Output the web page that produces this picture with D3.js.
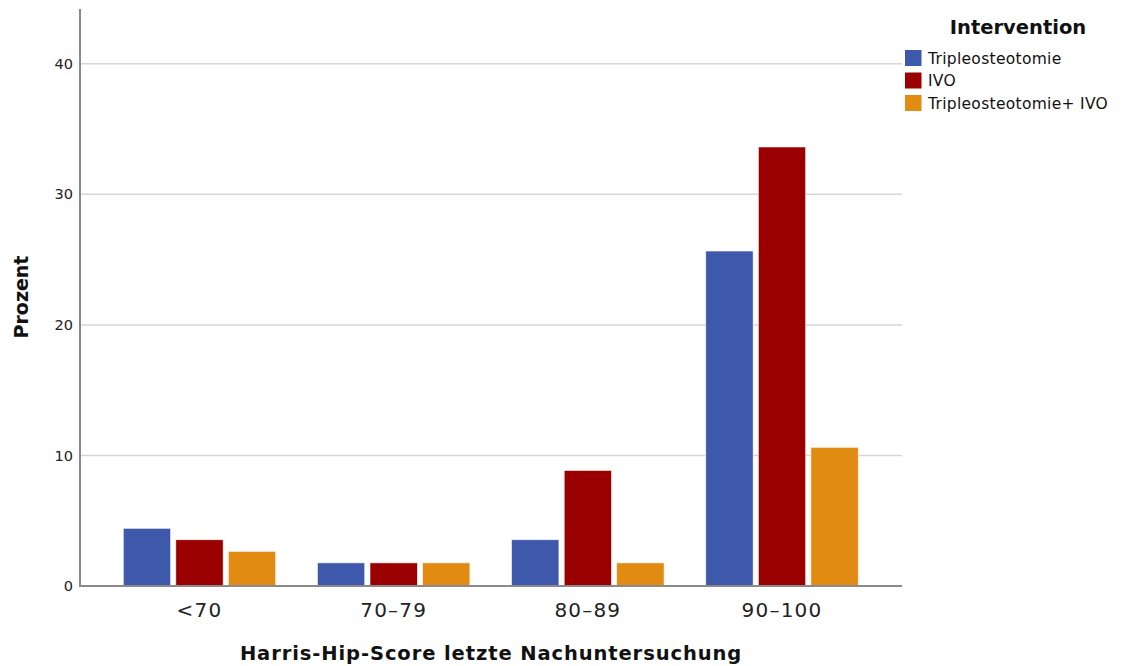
<!DOCTYPE html>
<html><head><meta charset="utf-8">
<script src="https://cdn.jsdelivr.net/npm/d3@7"></script>
<style>body{margin:0;background:#fff;} text{font-family:"DejaVu Sans","Noto Sans",sans-serif;}</style>
</head><body>
<svg id="c" width="1141" height="666"></svg>
<script>
const categories = ["<70", "70–79", "80–89", "90–100"];
const seriesNames = ["Tripleosteotomie", "IVO", "Tripleosteotomie+ IVO"];
const triple = [4.42, 1.77, 3.54, 25.66];
const ivo = [3.54, 1.77, 8.85, 33.63];
const tripleIvo = [2.65, 1.77, 1.77, 10.62];
const yTicks = [0, 10, 20, 30, 40];
const colors = ["#3e58ab", "#9b0000", "#e18b13"];

const seriesVals = [triple, ivo, tripleIvo];
const svg = d3.select("#c");
const L = 80, R = 902, T = 9, B = 586;

const y = d3.scaleLinear().domain([0, 44.2]).range([B, T]);
const x0 = d3.scaleBand().domain(categories).range([102.5, 879]).paddingInner(0.215).paddingOuter(0.107);
const x1 = d3.scaleBand().domain(seriesNames).range([0, x0.bandwidth()]).paddingInner(0.1);

// gridlines
svg.append("g").selectAll("line").data(yTicks.filter(d => d > 0)).join("line")
  .attr("x1", L).attr("x2", R).attr("y1", d => y(d)).attr("y2", d => y(d))
  .attr("stroke", "#d6d6d6").attr("stroke-width", 1.5);

// bars
const g = svg.append("g");
categories.forEach((c, i) => {
  seriesNames.forEach((s, j) => {
    g.append("rect")
      .attr("x", x0(c) + x1(s)).attr("width", x1.bandwidth())
      .attr("y", y(seriesVals[j][i])).attr("height", B - y(seriesVals[j][i]))
      .attr("fill", colors[j]).attr("stroke", "#f4f4f4").attr("stroke-width", 0.6);
  });
});

// axes lines
svg.append("line").attr("x1", L).attr("x2", L).attr("y1", T).attr("y2", B).attr("stroke", "#8a8a8a").attr("stroke-width", 2);
svg.append("line").attr("x1", L - 1).attr("x2", R).attr("y1", B).attr("y2", B).attr("stroke", "#8a8a8a").attr("stroke-width", 2);

// y tick labels
svg.append("g").selectAll("text").data(yTicks).join("text")
  .attr("x", 73).attr("y", d => y(d)).attr("dy", "0.35em").attr("text-anchor", "end")
  .attr("font-size", 14.5).attr("fill", "#222").text(d => d);

// x tick labels
svg.append("g").selectAll("text").data(categories).join("text")
  .attr("x", d => x0(d) + x0.bandwidth() / 2).attr("y", 617).attr("text-anchor", "middle")
  .attr("font-size", 20).attr("letter-spacing", 1.2).attr("fill", "#222").text(d => d);

// axis titles
svg.append("text").attr("x", 491).attr("y", 660).attr("text-anchor", "middle")
  .attr("font-size", 19.5).attr("letter-spacing", 0.9).attr("font-weight", "bold").attr("fill", "#111")
  .text("Harris-Hip-Score letzte Nachuntersuchung");
svg.append("text").attr("transform", "translate(28,297) rotate(-90)").attr("text-anchor", "middle")
  .attr("font-size", 19).attr("font-weight", "bold").attr("fill", "#111").text("Prozent");

// legend
svg.append("text").attr("x", 1018).attr("y", 34).attr("text-anchor", "middle")
  .attr("font-size", 19.5).attr("font-weight", "bold").attr("fill", "#111").text("Intervention");
const lg = svg.append("g").selectAll("g").data(seriesNames).join("g")
  .attr("transform", (d, i) => `translate(905,${50 + i * 22.5})`);
lg.append("rect").attr("width", 16.5).attr("height", 16).attr("fill", (d, i) => colors[i]);
lg.append("text").attr("x", 23).attr("y", 8.5).attr("dy", "0.35em").attr("font-size", 15.5).attr("letter-spacing", 0.3).attr("fill", "#111").text(d => d);
</script>
</body></html>
